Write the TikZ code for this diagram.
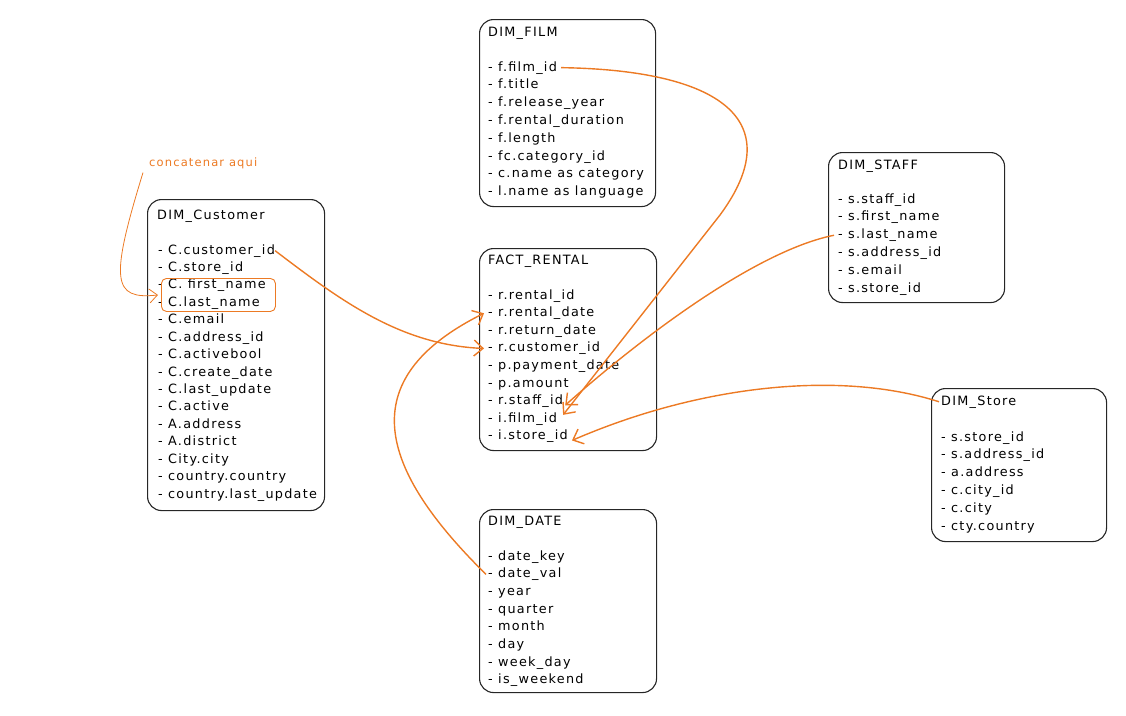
\documentclass[tikz,border=0pt]{standalone}
\usepackage{fontspec}
\setmainfont{DejaVu Sans}[LetterSpace=10]
\usepackage{tikz}
\usetikzlibrary{arrows.meta,positioning}

\definecolor{orng}{HTML}{EC7A24}
\newcommand{\fldfont}{\fontsize{12.8}{14}\selectfont}

\begin{document}
\begin{tikzpicture}[x=1pt, y=-1pt,
  tbl/.style={draw=black!85, line width=1.1pt, rounded corners=14pt, anchor=north west, inner sep=0pt},
  fld/.style={anchor=base west, inner sep=0pt, font=\fldfont},
  link/.style={draw=orng, line width=1.4pt, -{Straight Barb[length=9pt,width=16pt]}},
  note/.style={text=orng, font=\fontsize{11.5}{13}\selectfont, anchor=base west, inner sep=0pt},
  grp/.style={draw=orng, line width=0.9pt, rounded corners=5pt, anchor=north west, inner sep=0pt}
]
\useasboundingbox (0,0) rectangle (1126,715);

% Boxes
\node[tbl, minimum width=177, minimum height=311] (cus) at (147,199) {};
\node[tbl, minimum width=176, minimum height=187] (flm) at (479,19)  {};
\node[tbl, minimum width=177, minimum height=202] (rnt) at (479,248) {};
\node[tbl, minimum width=177, minimum height=183] (dat) at (479,509) {};
\node[tbl, minimum width=176, minimum height=150] (stf) at (828,152) {};
\node[tbl, minimum width=175, minimum height=153] (sto) at (931,388) {};

% Titles
\node[fld] (cus0) at (157,219) {DIM\_Customer};
\node[fld] (flm0) at (488,36)  {DIM\_FILM};
\node[fld] (rnt0) at (488,264) {FACT\_RENTAL};
\node[fld] (dat0) at (488,525) {DIM\_DATE};
\node[fld] (stf0) at (838,169) {DIM\_STAFF};
\node[fld] (sto0) at (941,405) {DIM\_Store};

% Fields
\foreach \f [count=\i] in {C.customer\_id, C.store\_id, C. first\_name, C.last\_name, C.email,
    C.address\_id, C.activebool, C.create\_date, C.last\_update, C.active, A.address,
    A.district, City.city, country.country, country.last\_update}
  \node[fld] (cus\i) at (158, 236.6+17.43*\i) {- \f};
\foreach \f [count=\i] in {f.film\_id, f.title, f.release\_year, f.rental\_duration, f.length,
    fc.category\_id, c.name as category, l.name as language}
  \node[fld] (flm\i) at (488, 53.2+17.8*\i) {- \f};
\foreach \f [count=\i] in {r.rental\_id, r.rental\_date, r.return\_date, r.customer\_id,
    p.payment\_date, p.amount, r.staff\_id, i.film\_id, i.store\_id}
  \node[fld] (rnt\i) at (488, 281.4+17.6*\i) {- \f};
\foreach \f [count=\i] in {date\_key, date\_val, year, quarter, month, day, week\_day, is\_weekend}
  \node[fld] (dat\i) at (488, 542.3+17.7*\i) {- \f};
\foreach \f [count=\i] in {s.staff\_id, s.first\_name, s.last\_name, s.address\_id, s.email, s.store\_id}
  \node[fld] (stf\i) at (838, 185.2+17.8*\i) {- \f};
\foreach \f [count=\i] in {s.store\_id, s.address\_id, a.address, c.city\_id, c.city, cty.country}
  \node[fld] (sto\i) at (941, 423.2+17.8*\i) {- \f};

% Name group and note
\node[grp, minimum width=114, minimum height=33] (nm) at (161,278) {};
\node[note] (cc) at (149,166) {concatenar aqui};
\draw[orng, line width=0.8pt, -{Straight Barb[length=8pt,width=14pt]}]
  ([xshift=-6pt,yshift=-4pt]cc.south west) .. controls (110,280) and (112,300) .. ([xshift=-3pt]nm.west);

% Links
\draw[link] (cus1.east) .. controls (340,300) and (400,345) .. ([xshift=-4pt]rnt4.west);
\draw[link] ([xshift=4pt]flm1.east) .. controls (720,70) and (790,120) .. (720,215) -- ([xshift=6pt,yshift=4pt]rnt8.east);
\draw[link] ([xshift=-4pt]stf3.west) .. controls (760,250) and (650,330) .. ([xshift=2pt,yshift=-4pt]rnt7.east);
\draw[link] ([xshift=-2pt]sto0.west) .. controls (840,370) and (700,385) .. ([xshift=4pt,yshift=-4pt]rnt9.east);
\draw[link] ([xshift=-2pt]dat2.west) .. controls (380,470) and (350,380) .. ([xshift=-4pt]rnt2.west);

\end{tikzpicture}
\end{document}
